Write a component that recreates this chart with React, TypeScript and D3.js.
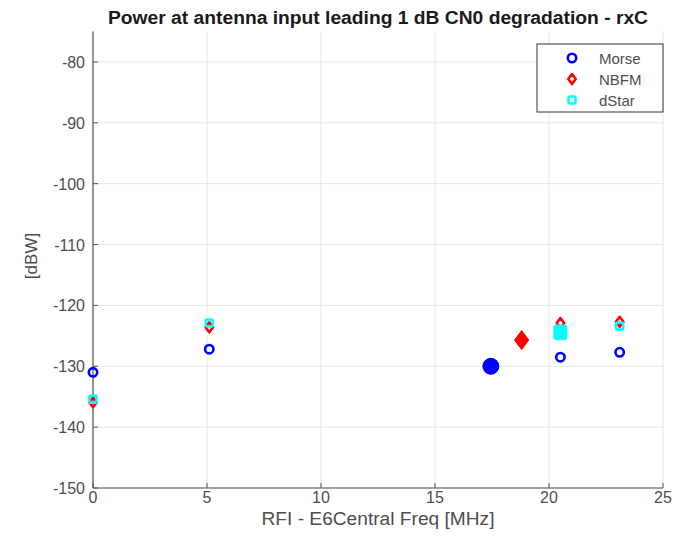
import React from "react";
import * as d3 from "d3";

const W = 681, H = 539;
const xTicks = [0, 5, 10, 15, 20, 25];
const yTicks = [-150, -140, -130, -120, -110, -100, -90, -80];

const morseX = [0, 5.1, 20.5, 23.1];
const morseY = [-131.0, -127.2, -128.5, -127.7];
const nbfmX = [0, 5.1, 20.5, 23.1];
const nbfmY = [-135.9, -123.6, -122.9, -122.7];
const dstarX = [0, 5.1, 23.1];
const dstarY = [-135.4, -122.9, -123.4];

// highlighted (filled) points
const morseFillX = [17.45];
const morseFillY = [-130.0];
const nbfmFillX = [18.8];
const nbfmFillY = [-125.7];
const dstarFillX = [20.5];
const dstarFillY = [-124.3];

const seriesNames = ["Morse", "NBFM", "dStar"];
const colors = ["#0000ff", "#ff0000", "#00ffff"];

const x = d3.scaleLinear().domain([0, 25]).range([93, 663]);
const y = d3.scaleLinear().domain([-150, -75]).range([488, 31.5]);

const FONT = "'Liberation Sans', Arial, Helvetica, sans-serif";

function Marker({ kind, cx, cy, color, filled, big }: any) {
  const sw = 2.6;
  if (kind === 0) {
    const r = big ? 8 : 4.2;
    return <circle cx={cx} cy={cy} r={r} fill={filled ? color : "none"} stroke={color} strokeWidth={filled ? 1 : sw} />;
  }
  if (kind === 1) {
    const s = big ? 9.5 : 5;
    const p = `M${cx},${cy - s}L${cx + s * 0.75},${cy}L${cx},${cy + s}L${cx - s * 0.75},${cy}Z`;
    return <path d={p} fill={filled ? color : "none"} stroke={color} strokeWidth={filled ? 1 : sw} strokeLinejoin="round" />;
  }
  const s = big ? 6.5 : 3.5;
  return <rect x={cx - s} y={cy - s} width={2 * s} height={2 * s + (big ? 1.5 : 0)} rx={big ? 2 : 1.5} fill={filled ? color : "none"} stroke={color} strokeWidth={filled ? 1 : sw} />;
}

export default function App() {
  const normal = [
    [nbfmX, nbfmY, 1],
    [dstarX, dstarY, 2],
    [morseX, morseY, 0],
  ] as const;
  const filled = [
    [morseFillX, morseFillY, 0],
    [nbfmFillX, nbfmFillY, 1],
    [dstarFillX, dstarFillY, 2],
  ] as const;
  return (
    <svg width={W} height={H} style={{ position: "absolute", left: 0, top: 0, background: "#fff" }} fontFamily={FONT}>
      <rect x={0} y={0} width={W} height={H} fill="#fff" />
      {/* grid */}
      {xTicks.map((t) => (
        <line key={"gx" + t} x1={x(t)} x2={x(t)} y1={y(-150)} y2={y(-75)} stroke="#e6e6e6" strokeWidth={1} />
      ))}
      {yTicks.map((t) => (
        <line key={"gy" + t} x1={x(0)} x2={x(25)} y1={y(t)} y2={y(t)} stroke="#e6e6e6" strokeWidth={1} />
      ))}
      {/* axes */}
      <line x1={x(0)} x2={x(0)} y1={y(-150)} y2={y(-75)} stroke="#555" strokeWidth={1.2} />
      <line x1={x(0)} x2={x(25)} y1={y(-150)} y2={y(-150)} stroke="#555" strokeWidth={1.2} />
      {xTicks.map((t) => (
        <g key={"tx" + t}>
          <line x1={x(t)} x2={x(t)} y1={y(-150)} y2={y(-150) - 5} stroke="#555" />
          <text x={x(t)} y={503} textAnchor="middle" fontSize={16} fill="#4d4d4d">{t}</text>
        </g>
      ))}
      {yTicks.map((t) => (
        <g key={"ty" + t}>
          <line x1={x(0)} x2={x(0) + 5} y1={y(t)} y2={y(t)} stroke="#555" />
          <text x={x(0) - 8} y={y(t) + 6} textAnchor="end" fontSize={16} fill="#4d4d4d">{t}</text>
        </g>
      ))}
      {/* labels */}
      <text x={378} y={24} textAnchor="middle" fontSize={18} fontWeight="bold" fill="#1a1a1a" textLength={540} lengthAdjust="spacingAndGlyphs">
        Power at antenna input leading 1 dB CN0 degradation - rxC
      </text>
      <text x={378} y={525} textAnchor="middle" fontSize={18} fill="#4d4d4d" textLength={233} lengthAdjust="spacingAndGlyphs">RFI - E6Central Freq [MHz]</text>
      <text transform={`translate(37,256) rotate(-90)`} textAnchor="middle" fontSize={17} fill="#4d4d4d">[dBW]</text>
      {/* points */}
      {normal.map(([xs, ys, k]) =>
        xs.map((v, i) => (
          <Marker key={`n${k}-${i}`} kind={k} cx={x(v)} cy={y(ys[i])} color={colors[k]} filled={false} />
        ))
      )}
      {filled.map(([xs, ys, k]) =>
        xs.map((v, i) => (
          <Marker key={`f${k}-${i}`} kind={k} cx={x(v)} cy={y(ys[i])} color={colors[k]} filled big />
        ))
      )}
      {/* legend */}
      <rect x={537} y={44} width={126} height={68} fill="#fff" stroke="#333" strokeWidth={1} />
      {seriesNames.map((n, i) => (
        <g key={n}>
          <Marker kind={i} cx={572} cy={58 + i * 21} color={colors[i]} filled={false} />
          <text x={599} y={63.5 + i * 21} fontSize={15} fill="#4d4d4d">{n}</text>
        </g>
      ))}
    </svg>
  );
}
